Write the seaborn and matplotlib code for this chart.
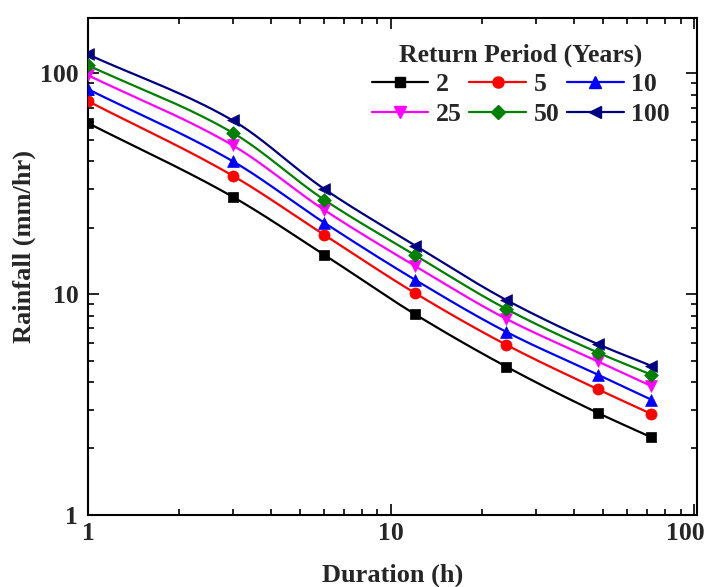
import numpy as np
import pandas as pd
import matplotlib
matplotlib.use("Agg")
import matplotlib.pyplot as plt
import seaborn as sns
from matplotlib.lines import Line2D
from matplotlib.ticker import FuncFormatter, LogLocator, NullFormatter
import matplotlib.transforms as mtransforms

# ---- data ----
durations = [1, 3, 6, 12, 24, 48, 72]
return_periods = ["2", "5", "10", "25", "50", "100"]
rain_2 = [59.5, 27.6, 15.1, 8.1, 4.69, 2.90, 2.25]
rain_5 = [74.8, 34.4, 18.6, 10.1, 5.89, 3.71, 2.87]
rain_10 = [84.7, 40.0, 21.1, 11.6, 6.74, 4.32, 3.33]
rain_25 = [98.0, 47.2, 24.1, 13.4, 7.72, 4.96, 3.84]
rain_50 = [108.7, 53.8, 26.8, 15.0, 8.56, 5.44, 4.32]
rain_100 = [121.8, 61.2, 30.0, 16.6, 9.40, 5.94, 4.74]
series = [rain_2, rain_5, rain_10, rain_25, rain_50, rain_100]

colors = ["#000000", "#FF0000", "#0000FF", "#FF00FF", "#008000", "#000080"]
markers = ["s", "o", "^", "v", "D", "<"]
msizes = [7, 8, 8.5, 8.5, 7, 8.5]


def pchip(x, y, xn):
    """Monotone cubic (Fritsch-Carlson) through the data points."""
    x = np.asarray(x, float); y = np.asarray(y, float)
    h = np.diff(x); d = np.diff(y) / h
    m = np.zeros_like(y)
    m[0], m[-1] = d[0], d[-1]
    for k in range(1, len(x) - 1):
        if d[k - 1] * d[k] > 0:
            w1 = 2 * h[k] + h[k - 1]; w2 = h[k] + 2 * h[k - 1]
            m[k] = (w1 + w2) / (w1 / d[k - 1] + w2 / d[k])
    out = np.empty_like(xn)
    idx = np.clip(np.searchsorted(x, xn) - 1, 0, len(x) - 2)
    for i, (xv, k) in enumerate(zip(xn, idx)):
        t = (xv - x[k]) / h[k]
        h00 = 2 * t**3 - 3 * t**2 + 1; h10 = t**3 - 2 * t**2 + t
        h01 = -2 * t**3 + 3 * t**2; h11 = t**3 - t**2
        out[i] = h00 * y[k] + h10 * h[k] * m[k] + h01 * y[k + 1] + h11 * h[k] * m[k + 1]
    return out


sns.set_style("ticks")
plt.rcParams["font.family"] = ["Liberation Serif", "DejaVu Serif"]
plt.rcParams["font.weight"] = "bold"

fig = plt.figure(figsize=(7.08, 5.87), dpi=100)
ax = fig.add_axes([0.1243, 0.1227, 0.8602, 0.8466])

lx = np.log10(durations)
dense = np.linspace(lx[0], lx[-1], 300)
for rp, vals, c, mk, ms in zip(return_periods, series, colors, markers, msizes):
    ly = np.log10(vals)
    smooth = pd.DataFrame({"x": 10 ** dense, "y": 10 ** pchip(lx, ly, dense)})
    sns.lineplot(data=smooth, x="x", y="y", color=c, linewidth=1.6, ax=ax,
                 legend=False, estimator=None, sort=False)
    pts = pd.DataFrame({"x": durations, "y": vals})
    sns.scatterplot(data=pts, x="x", y="y", color=c, marker=mk, s=ms**2,
                    edgecolor=c, linewidth=0.5, ax=ax, legend=False, zorder=3)

ax.set_xscale("log")
ax.set_yscale("log")
ax.set_xlim(1, 102)
ax.set_ylim(1, 178)

fmt = FuncFormatter(lambda v, p: f"{v:g}")
ax.xaxis.set_major_formatter(fmt)
ax.yaxis.set_major_formatter(fmt)
ax.xaxis.set_minor_formatter(NullFormatter())
ax.yaxis.set_minor_formatter(NullFormatter())
ax.xaxis.set_major_locator(LogLocator(base=10))
ax.yaxis.set_major_locator(LogLocator(base=10))
ax.xaxis.set_minor_locator(LogLocator(base=10, subs=np.arange(2, 10)))
ax.yaxis.set_minor_locator(LogLocator(base=10, subs=np.arange(2, 10)))

ax.tick_params(which="both", direction="in", top=True, right=True,
               labelsize=18.5, width=1.2, color="black")
ax.tick_params(which="major", length=8)
ax.tick_params(axis="x", which="major", pad=5)
ax.tick_params(axis="y", which="major", pad=7)
ax.tick_params(which="minor", length=4.5)
fig.canvas.draw()
for lab in ax.get_xticklabels() + ax.get_yticklabels():
    lab.set_fontweight("bold")
# keep the right-most x label inside the figure, as in the reference
for lab in ax.get_xticklabels():
    if lab.get_text() == "100":
        lab.set_transform(lab.get_transform() +
                          mtransforms.ScaledTranslation(-9 / 100, 0, fig.dpi_scale_trans))
for s in ax.spines.values():
    s.set_linewidth(1.5)
    s.set_color("black")

ax.set_xlabel("Duration (h)", fontsize=19, fontweight="bold")
ax.set_ylabel("Rainfall (mm/hr)", fontsize=19, fontweight="bold")
ax.xaxis.set_label_coords(0.5, -0.098)
ax.yaxis.set_label_coords(-0.086, 0.54)

handles = [Line2D([0], [0], color=c, marker=mk, markersize=ms, linewidth=1.6,
                  markeredgecolor=c)
           for c, mk, ms in zip(colors, markers, msizes)]
order = [0, 3, 1, 4, 2, 5]
leg = ax.legend([handles[i] for i in order], [return_periods[i] for i in order],
                ncol=3, loc="upper right", bbox_to_anchor=(0.985, 0.985),
                frameon=False, title="Return Period (Years)",
                prop={"size": 18.5, "weight": "bold"},
                title_fontproperties={"size": 18.5, "weight": "bold"},
                handlelength=2.2, handletextpad=0.3, columnspacing=0.3,
                labelspacing=0.25, borderpad=0.2)

fig.savefig("out.png", dpi=100, facecolor="white")
